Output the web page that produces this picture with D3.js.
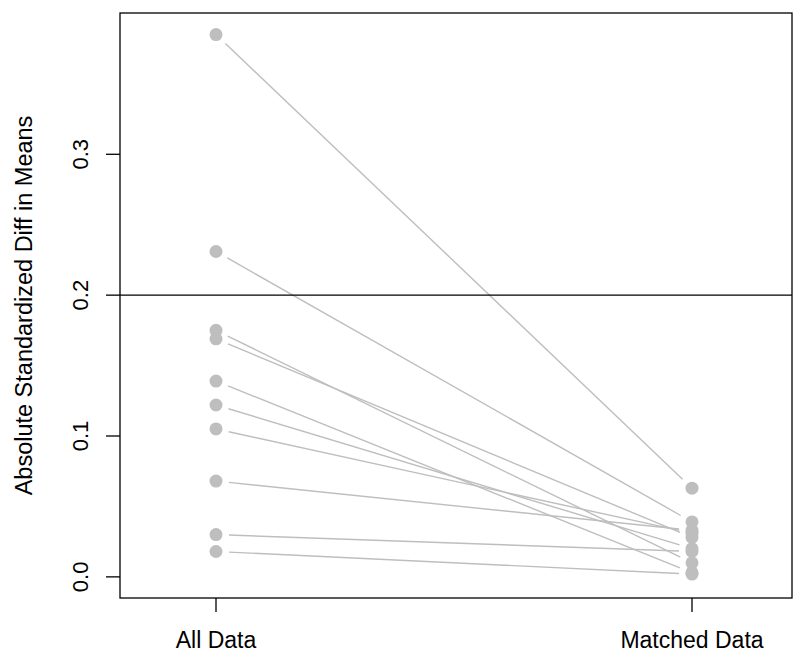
<!DOCTYPE html>
<html>
<head>
<meta charset="utf-8">
<script src="https://cdn.jsdelivr.net/npm/d3@7"></script>
<style>
  body { margin: 0; background: #fff; }
  text { font-family: "Liberation Sans", Arial, sans-serif; }
</style>
</head>
<body>
<div id="chart"></div>
<script>
const groups = ["All Data", "Matched Data"];
const allData = [0.385, 0.231, 0.175, 0.169, 0.139, 0.122, 0.105, 0.068, 0.030, 0.018];
const matchedData = [0.063, 0.039, 0.010, 0.028, 0.003, 0.020, 0.031, 0.033, 0.018, 0.002];
const yTicks = [0.0, 0.1, 0.2, 0.3];
const threshold = 0.2;

const width = 800, height = 659;
const box = { left: 120, right: 792, top: 13, bottom: 598 };

const svg = d3.select("#chart").append("svg")
  .attr("width", width)
  .attr("height", height);

const x = d3.scaleLinear().domain([1, 2]).range([216, 692]);
const y = d3.scaleLinear().domain([-0.015, 0.4003]).range([box.bottom, box.top]);

const grey = "#bebebe";
const gap = 13;

// segments, trimmed at both ends like R's type = "b"
const pairs = allData.map((v, i) => [v, matchedData[i]]);
svg.selectAll("line.pair")
  .data(pairs)
  .enter()
  .append("line")
  .attr("class", "pair")
  .each(function (d) {
    const x1 = x(1), y1 = y(d[0]), x2 = x(2), y2 = y(d[1]);
    const len = Math.hypot(x2 - x1, y2 - y1);
    const ux = (x2 - x1) / len, uy = (y2 - y1) / len;
    d3.select(this)
      .attr("x1", x1 + ux * gap).attr("y1", y1 + uy * gap)
      .attr("x2", x2 - ux * gap).attr("y2", y2 - uy * gap);
  })
  .attr("stroke", grey)
  .attr("stroke-width", 1.4);

const points = [];
allData.forEach((v) => points.push([1, v]));
matchedData.forEach((v) => points.push([2, v]));

svg.selectAll("circle")
  .data(points)
  .enter()
  .append("circle")
  .attr("cx", (d) => x(d[0]))
  .attr("cy", (d) => y(d[1]))
  .attr("r", 6.5)
  .attr("fill", grey);

// reference line
svg.append("line")
  .attr("x1", box.left).attr("x2", box.right)
  .attr("y1", y(threshold)).attr("y2", y(threshold))
  .attr("stroke", "#000")
  .attr("stroke-width", 1.3);

// box
svg.append("rect")
  .attr("x", box.left).attr("y", box.top)
  .attr("width", box.right - box.left)
  .attr("height", box.bottom - box.top)
  .attr("fill", "none")
  .attr("stroke", "#000")
  .attr("stroke-width", 1.3);

// y axis
const yAxis = svg.append("g");
yAxis.selectAll("line")
  .data(yTicks)
  .enter()
  .append("line")
  .attr("x1", box.left).attr("x2", box.left - 14)
  .attr("y1", (d) => y(d)).attr("y2", (d) => y(d))
  .attr("stroke", "#000")
  .attr("stroke-width", 1.3);
yAxis.selectAll("text")
  .data(yTicks)
  .enter()
  .append("text")
  .attr("transform", (d) => `translate(88,${y(d)}) rotate(-90)`)
  .attr("text-anchor", "middle")
  .style("font-size", "22px")
  .text((d) => d.toFixed(1));

// x axis
const xAxis = svg.append("g");
xAxis.selectAll("line")
  .data(groups)
  .enter()
  .append("line")
  .attr("x1", (d, i) => x(i + 1)).attr("x2", (d, i) => x(i + 1))
  .attr("y1", box.bottom).attr("y2", box.bottom + 14)
  .attr("stroke", "#000")
  .attr("stroke-width", 1.3);
xAxis.selectAll("text")
  .data(groups)
  .enter()
  .append("text")
  .attr("x", (d, i) => x(i + 1))
  .attr("y", 648)
  .attr("text-anchor", "middle")
  .style("font-size", "23px")
  .text((d) => d);

svg.append("text")
  .attr("transform", `translate(32,${(box.top + box.bottom) / 2}) rotate(-90)`)
  .attr("text-anchor", "middle")
  .style("font-size", "23.5px")
  .text("Absolute Standardized Diff in Means");
</script>
</body>
</html>
